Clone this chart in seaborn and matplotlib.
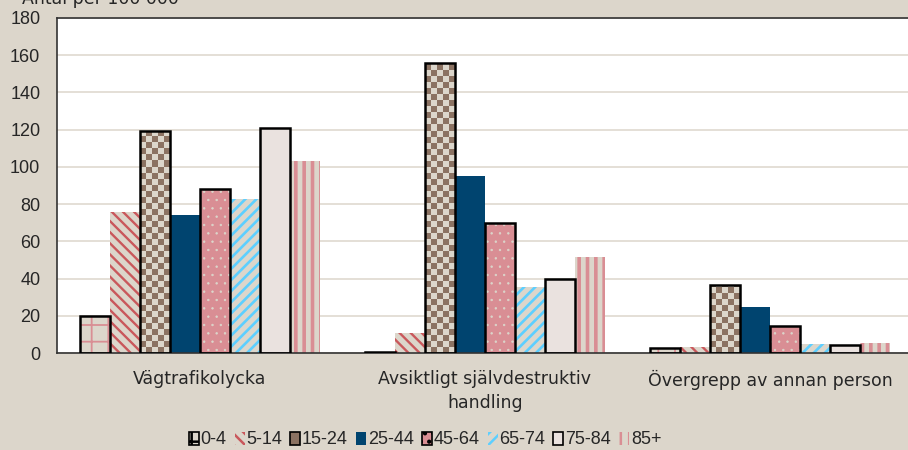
import numpy as np
import pandas as pd
import matplotlib
matplotlib.use("Agg")
import matplotlib.pyplot as plt
import seaborn as sns
from matplotlib.patches import Rectangle, Patch
from matplotlib.colors import ListedColormap

# data
causes = ["Vägtrafikolycka", "Avsiktligt självdestruktiv\nhandling", "Övergrepp av annan person"]
ages = ["0-4", "5-14", "15-24", "25-44", "45-64", "65-74", "75-84", "85+"]
vag = [20, 76, 119.5, 74, 88, 83, 121, 103]
avs = [0.8, 10.5, 156, 95, 70, 35.5, 39.5, 51.5]
ovg = [2.5, 3, 36.5, 24.5, 14.5, 5, 4.5, 5.5]

bg = "#DCD6CB"
brown = "#8B7262"
blue = "#00446F"
pink = "#D98E94"
red = "#C9585C"
lblue = "#5DCFFF"
lpink = "#EAE2DF"

rows = []
for c, vals in zip(causes, [vag, avs, ovg]):
    for a, v in zip(ages, vals):
        rows.append({"cause": c, "age": a, "value": v})
df = pd.DataFrame(rows)

sns.set_style("white")
plt.rcParams["font.family"] = ["DejaVu Sans"]
plt.rcParams["hatch.linewidth"] = 1.8
fs = 12.5
numfont = ["Liberation Sans", "DejaVu Sans"]

fig = plt.figure(figsize=(9.08, 4.5), dpi=100, facecolor=bg)
ax = fig.add_axes([57 / 908, 97 / 450, 856 / 908, 335 / 450])
ax.set_facecolor("white")

# fill / hatch colour / hatch / outlined / hatch linewidth
styles = {
    "0-4": (bg, pink, "+", True, 1.3),
    "5-14": (bg, red, "\\\\\\", False, 1.7),
    "15-24": (bg, bg, None, True, 1.0),
    "25-44": (blue, blue, None, False, 1.0),
    "45-64": (pink, bg, "..", True, 0.5),
    "65-74": (bg, lblue, "///", False, 1.9),
    "75-84": (lpink, lpink, None, True, 1.0),
    "85+": (bg, pink, "||", False, 2.6),
}

sns.barplot(data=df, x="cause", y="value", hue="age", hue_order=ages,
            palette=[styles[a][0] for a in ages], width=0.84, gap=0,
            saturation=1, legend=False, ax=ax)

sq_y = 6 * 180 / 335
for a, cont in zip(ages, ax.containers):
    fc, hc, hatch, outline, hlw = styles[a]
    for p in cont.patches:
        p.set_facecolor(fc)
        p.set_edgecolor(hc)
        p.set_linewidth(0)
        if hatch:
            p.set_hatch(hatch)
            if hasattr(p, "set_hatch_linewidth"):
                p.set_hatch_linewidth(hlw)
        x0, y0 = p.get_x(), p.get_y()
        w, h = p.get_width(), p.get_height()
        if a == "15-24":
            nr = int(np.ceil(h / sq_y))
            arr = (np.add.outer(np.arange(nr), np.arange(5)) % 2)
            im = ax.imshow(arr, cmap=ListedColormap([bg, brown]), origin="lower",
                           extent=(x0, x0 + w, y0, y0 + nr * sq_y),
                           aspect="auto", interpolation="nearest", zorder=2)
            im.set_clip_path(p)
        if outline:
            ax.add_patch(Rectangle((x0, y0), w, h, fill=False, edgecolor="black",
                                   linewidth=1.8, zorder=3))

ax.set_xlim(-0.5, 2.5)
ax.set_ylim(0, 180)
ax.set_yticks(np.arange(0, 181, 20))
ax.yaxis.grid(True, color="#E2DCD3", linewidth=1.3)
ax.set_axisbelow(True)
ax.set_xlabel("")
ax.set_ylabel("")
ax.tick_params(axis="y", length=0, labelsize=13, pad=12)
ax.tick_params(axis="x", length=0, labelsize=fs, pad=12)
for t in ax.get_yticklabels():
    t.set_family(numfont)
for t in ax.get_xticklabels():
    t.set_linespacing(1.45)
ax.set_xticks([0.5, 1.5], minor=True)
ax.tick_params(axis="x", which="minor", direction="in", length=5, color="#555555")
for s in ax.spines.values():
    s.set_color("#333333")
    s.set_linewidth(1.2)

fig.text(22 / 908, 1 - 4 / 450, "Antal per 100 000", fontsize=fs, va="baseline")

handles = []
for a in ages:
    fc, hc, hatch, outline, hlw = styles[a]
    if a == "15-24":
        fc = brown
    handles.append(Patch(facecolor=fc, edgecolor="black" if outline else hc,
                         hatch=hatch, linewidth=1.2 if outline else 0))
fig.legend(handles, ages, loc="center", bbox_to_anchor=(425 / 908, 1 - 440 / 450),
           ncol=8, frameon=False, prop={"family": numfont, "size": 13},
           handlelength=0.55, handleheight=0.7, handletextpad=0.1, columnspacing=0.45)

fig.savefig("out.png", dpi=100, facecolor=bg)
